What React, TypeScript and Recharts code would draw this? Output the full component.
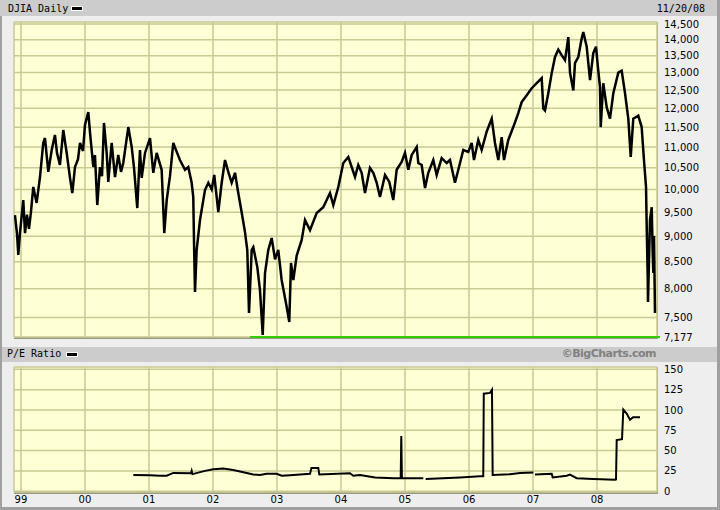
import React from 'react';
import { LineChart, Line, XAxis, YAxis, CartesianGrid, ReferenceLine } from 'recharts';

const djiaDates = [
  1998.906, 1998.938, 1998.958, 1998.984, 1999.036, 1999.063, 1999.094, 1999.125, 1999.156, 1999.192,
  1999.245, 1999.297, 1999.348, 1999.375, 1999.427, 1999.48, 1999.531, 1999.563, 1999.609, 1999.661,
  1999.714, 1999.766, 1999.802, 1999.844, 1999.891, 1999.922, 1999.969, 2000.0, 2000.052, 2000.078,
  2000.13, 2000.156, 2000.192, 2000.234, 2000.266, 2000.297, 2000.339, 2000.364, 2000.417, 2000.469,
  2000.52, 2000.563, 2000.598, 2000.677, 2000.73, 2000.766, 2000.817, 2000.859, 2000.886, 2000.938,
  2001.016, 2001.067, 2001.12, 2001.198, 2001.239, 2001.277, 2001.328, 2001.38, 2001.433, 2001.484,
  2001.563, 2001.614, 2001.667, 2001.692, 2001.703, 2001.719, 2001.745, 2001.797, 2001.875, 2001.927,
  2001.98, 2002.02, 2002.083, 2002.136, 2002.188, 2002.239, 2002.292, 2002.344, 2002.395, 2002.448,
  2002.5, 2002.536, 2002.563, 2002.605, 2002.63, 2002.692, 2002.734, 2002.777, 2002.813, 2002.864,
  2002.917, 2002.969, 2003.02, 2003.073, 2003.152, 2003.192, 2003.219, 2003.255, 2003.308, 2003.386,
  2003.438, 2003.516, 2003.62, 2003.723, 2003.828, 2003.88, 2003.958, 2004.036, 2004.114, 2004.167,
  2004.219, 2004.27, 2004.323, 2004.375, 2004.453, 2004.505, 2004.558, 2004.609, 2004.688, 2004.755,
  2004.817, 2004.87, 2004.948, 2005.0, 2005.052, 2005.105, 2005.183, 2005.208, 2005.261, 2005.313,
  2005.364, 2005.442, 2005.495, 2005.573, 2005.652, 2005.703, 2005.781, 2005.833, 2005.911, 2005.989,
  2006.042, 2006.078, 2006.145, 2006.198, 2006.277, 2006.355, 2006.406, 2006.458, 2006.511, 2006.547,
  2006.614, 2006.692, 2006.77, 2006.823, 2006.902, 2006.98, 2007.058, 2007.136, 2007.161, 2007.188,
  2007.239, 2007.292, 2007.344, 2007.395, 2007.448, 2007.5, 2007.552, 2007.578, 2007.63, 2007.656,
  2007.708, 2007.761, 2007.786, 2007.839, 2007.891, 2007.942, 2007.984, 2008.02, 2008.047, 2008.058,
  2008.098, 2008.152, 2008.203, 2008.255, 2008.333, 2008.386, 2008.438, 2008.489, 2008.527, 2008.567,
  2008.645, 2008.698, 2008.734, 2008.766, 2008.777, 2008.792, 2008.797, 2008.828, 2008.855, 2008.87,
  2008.88, 2008.891, 2008.906,
];
const djiaValues = [
  9440, 9050, 8630, 9065, 9763, 9065, 9450, 9150, 9500, 10054,
  9700, 10282, 11099, 11223, 10400, 10926, 11300, 10850, 10563, 11427,
  10854, 10260, 9918, 10516, 10700, 11099, 10900, 11555, 11899, 11372,
  10516, 10800, 9654, 10516, 10300, 11610, 10854, 10168, 11099, 10282,
  10806, 10400, 10610, 11503, 11000, 10500, 9589, 10926, 10260, 10854,
  11223, 10380, 10854, 10450, 9065, 9763, 10300, 11099, 10878, 10682,
  10450, 10516, 10150, 9830, 8925, 7940, 8727, 9335, 9984, 10150,
  10000, 10330, 9500, 10150, 10682, 10400, 10150, 10380, 9920, 9500,
  9085, 8727, 7575, 8727, 8780, 8400, 7977, 7209, 8287, 8727,
  8965, 8547, 8727, 8158, 7677, 7423, 8477, 8158, 8618, 8925,
  9335, 9125, 9481, 9608, 9918, 9654, 10054, 10610, 10756, 10516,
  10282, 10563, 10380, 9918, 10493, 10380, 10150, 9830, 10330, 10168,
  9763, 10450, 10634, 10854, 10450, 10806, 11000, 10610, 10563, 10032,
  10380, 10682, 10330, 10730, 10610, 10682, 10150, 10450, 10926, 10878,
  11099, 10682, 11175, 10926, 11390, 11722, 11099, 10682, 11247, 10682,
  11175, 11503, 11870, 12168, 12357, 12553, 12694, 12838, 11995, 11940,
  12410, 12985, 13465, 13690, 13520, 13370, 14080, 13000, 12490, 13280,
  13465, 14045, 14244, 13780, 12780, 13585, 13780, 13055, 12580, 11503,
  12694, 12022, 11722, 12410, 13000, 13055, 12410, 11722, 10756, 11722,
  11800, 11503, 10682, 10054, 9177, 8220, 7764, 9335, 9608, 8670,
  8287, 9004, 7575,
];

// P/E ratio (null = gap in the series)
const peDates = [
  2000.755, 2001.016, 2001.172, 2001.277, 2001.38, 2001.656, 2001.667, 2001.68, 2001.875, 2002.005,
  2002.161, 2002.317, 2002.527, 2002.63, 2002.734, 2002.839, 2002.995, 2003.073, 2003.203, 2003.516,
  2003.539, 2003.645, 2003.661, 2004.141, 2004.192, 2004.297, 2004.531, 2004.817, 2004.933, 2004.942,
  2004.952, 2005.286, 2005.305, 2005.323, 2005.859, 2006.172, 2006.223, 2006.231, 2006.328, 2006.359,
  2006.37, 2006.641, 2006.797, 2007.005, 2007.018, 2007.031, 2007.292, 2007.308, 2007.527, 2007.578,
  2007.683, 2007.942, 2008.281, 2008.297, 2008.308, 2008.391, 2008.411, 2008.464, 2008.516, 2008.563,
  2008.672,
];
const peValues: (number | null)[] = [
  20, 19.5, 19, 19, 22.5, 22, 25, 21, 25, 27,
  28, 26, 22.5, 20.5, 20, 21.5, 21.5, 19, 19.7, 21.5,
  28.7, 28.7, 20.5, 22, 19, 20, 17, 16, 16, 68,
  16, 16, null, 15, 17, 18.5, 18.5, 120, 121, 125,
  20, 21, 22.5, 23, null, 20.5, 21.5, 17, 19, 20.5,
  16, 15, 14, 14.4, 63, 64, 100.4, 95.5, 88, 91,
  91,
];

const djiaTicks = [7177, 7500, 8000, 8500, 9000, 9500, 10000, 10500, 11000, 11500, 12000, 12500, 13000, 13500, 14000, 14500];
const peTicks = [0, 25, 50, 75, 100, 125, 150];
const yearTicks = [1999, 2000, 2001, 2002, 2003, 2004, 2005, 2006, 2007, 2008];
const yearLabels = ['99', '00', '01', '02', '03', '04', '05', '06', '07', '08'];
const lowValue = 7177;
const lowStart = 2002.578;

const X_DOMAIN: [number, number] = [1998.891, 2008.9375];
const GRID = '#C9C994';
const PLOT_BG = '#FFFFD6';
const tickStyle = { fontSize: 10, fill: '#000', fontFamily: '"DejaVu Sans", Verdana, sans-serif' };
const mono = '"DejaVu Sans Mono", monospace';

const djiaData = djiaDates.map((t, i) => ({ t, v: djiaValues[i] }));
const peData = peDates.map((t, i) => ({ t, pe: peValues[i] }));

const abs = (s: React.CSSProperties): React.CSSProperties => ({ position: 'absolute', ...s });

const Swatch = ({ left, top }: { left: number; top: number }) => (
  <div style={abs({ left, top, width: 10, height: 3, background: '#000', border: '1px solid #fff' })} />
);

export default function App() {
  return (
    <div style={abs({ left: 0, top: 0, width: 720, height: 510, background: '#EEEEEE', overflow: 'hidden' })}>
      {/* frame */}
      <div style={abs({ left: 0, top: 0, width: 717, height: 16, background: '#CCCCCC' })} />
      <div style={abs({ left: 0, top: 16, width: 2, height: 494, background: '#A0A0A0' })} />
      <div style={abs({ left: 717, top: 0, width: 3, height: 510, background: '#A0A0A0' })} />
      <div style={abs({ left: 0, top: 507, width: 720, height: 3, background: '#A0A0A0' })} />
      <div style={abs({ left: 2, top: 347, width: 715, height: 15, background: '#CCCCCC' })} />

      <div style={abs({ left: 8, top: 1, fontFamily: mono, fontSize: 10, lineHeight: '16px' })}>DJIA Daily</div>
      <Swatch left={71} top={6} />
      <div style={abs({ right: 15, top: 1, fontFamily: mono, fontSize: 10, lineHeight: '16px' })}>11/20/08</div>
      <div style={abs({ left: 7, top: 346, fontFamily: mono, fontSize: 10, lineHeight: '16px' })}>P/E Ratio</div>
      <Swatch left={66} top={352} />
      <div
        style={abs({
          right: 64, top: 345.5, fontFamily: '"DejaVu Sans", sans-serif', fontWeight: 'bold',
          fontSize: 11, letterSpacing: '-0.5px', lineHeight: '16px', color: '#808080',
        })}
      >
        ©BigCharts.com
      </div>

      {/* plot shadows */}
      <div style={abs({ left: 14, top: 337, width: 644, height: 2, background: '#9A9A80' })} />
      <div style={abs({ left: 657, top: 22, width: 1, height: 316, background: '#9A9A80' })} />
      <div style={abs({ left: 14, top: 492, width: 644, height: 2, background: '#9A9A80' })} />
      <div style={abs({ left: 657, top: 367, width: 1, height: 126, background: '#9A9A80' })} />

      <div style={abs({ left: 0, top: 0 })}>
        <LineChart width={720} height={345} data={djiaData} margin={{ top: 22, right: 0, bottom: 8, left: 14 }}>
          <CartesianGrid stroke={GRID} strokeWidth={1.5} fill={PLOT_BG} fillOpacity={1} />
          <XAxis dataKey="t" type="number" domain={X_DOMAIN} ticks={yearTicks} hide allowDataOverflow />
          <YAxis
            orientation="right"
            scale="log"
            domain={[7177, 14566]}
            ticks={djiaTicks}
            interval={0}
            width={63}
            allowDataOverflow
            axisLine={false}
            tickLine={false}
            tickSize={0}
            tickMargin={7}
            tick={tickStyle}
            tickFormatter={(v: number) => v.toLocaleString('en-US')}
          />
          <Line type="linear" dataKey="v" stroke="#000" strokeWidth={2.5} strokeLinejoin="miter" dot={false} isAnimationActive={false} />
          <ReferenceLine
            segment={[{ x: lowStart, y: lowValue }, { x: 2008.984, y: lowValue }]}
            stroke="#33CC00"
            strokeWidth={2}
            ifOverflow="visible"
          />
        </LineChart>
      </div>

      <div style={abs({ left: 0, top: 362 })}>
        <LineChart width={720} height={148} data={peData} margin={{ top: 5, right: 0, bottom: 0, left: 14 }}>
          <CartesianGrid stroke={GRID} strokeWidth={1.5} fill={PLOT_BG} fillOpacity={1} />
          <XAxis
            dataKey="t"
            type="number"
            domain={X_DOMAIN}
            ticks={yearTicks}
            interval={0}
            allowDataOverflow
            height={18}
            axisLine={false}
            tickLine={false}
            tickSize={0}
            tickMargin={4}
            tick={tickStyle}
            tickFormatter={(v: number) => yearLabels[yearTicks.indexOf(v)]}
          />
          <YAxis
            orientation="right"
            domain={[-1, 152.9]}
            ticks={peTicks}
            interval={0}
            width={63}
            allowDataOverflow
            axisLine={false}
            tickLine={false}
            tickSize={0}
            tickMargin={7}
            tick={tickStyle}
          />
          <Line type="linear" dataKey="pe" stroke="#000" strokeWidth={2} dot={false} connectNulls={false} isAnimationActive={false} />
        </LineChart>
      </div>
    </div>
  );
}
